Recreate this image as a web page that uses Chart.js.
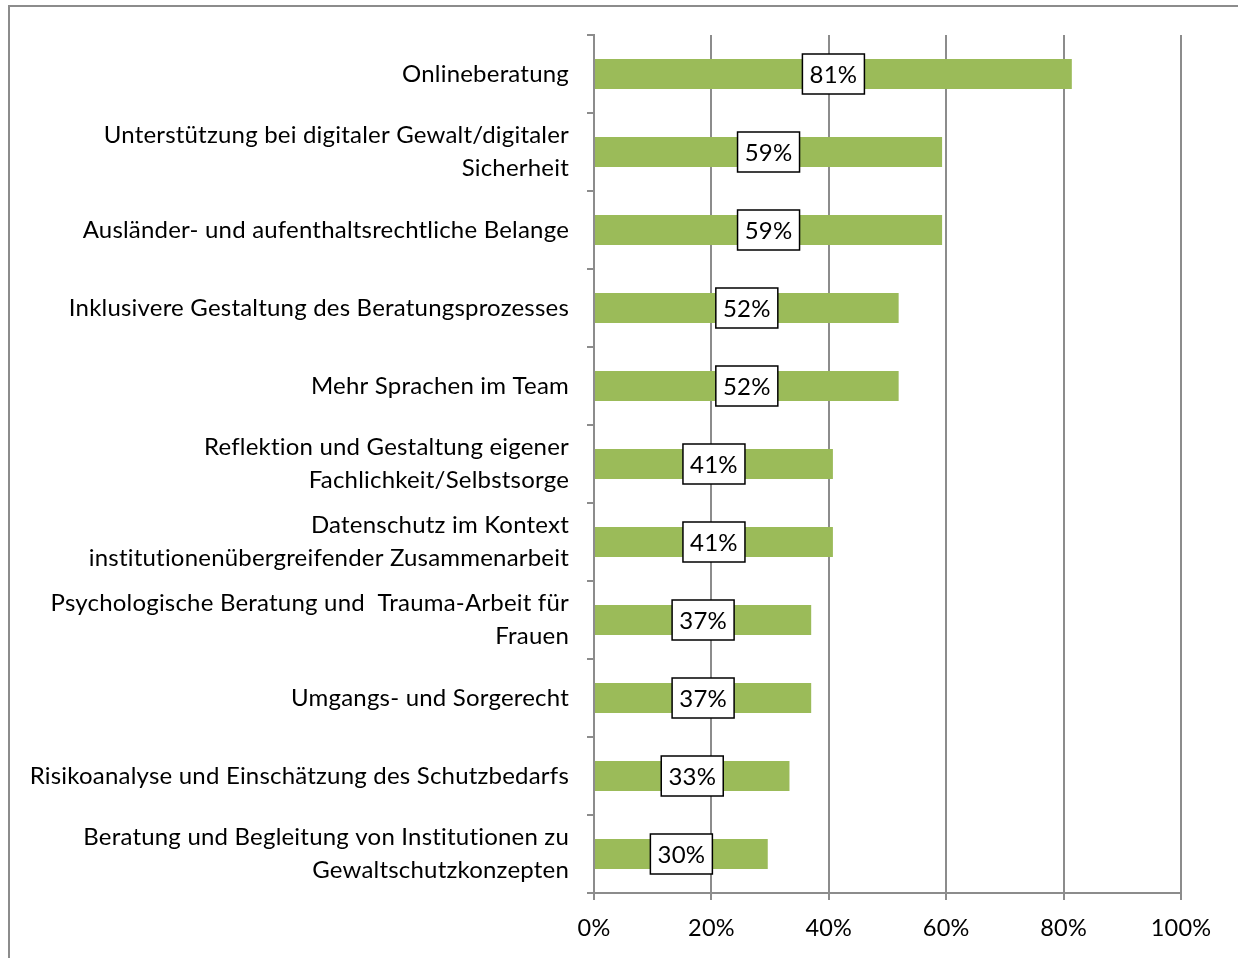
<!DOCTYPE html>
<html>
<head>
<meta charset="utf-8">
<script src="https://cdn.jsdelivr.net/npm/chart.js@4"></script>
<style>
    html, body { margin: 0; padding: 0; background: #fff; }
    #wrap { position: relative; width: 1238px; height: 958px; overflow: hidden; }
    #frame { position: absolute; left: 8px; top: 5px; width: 1300px; height: 1000px;
             border-left: 2px solid #8c8c8c; border-top: 2px solid #8c8c8c; }
    #needs { position: absolute; left: 0; top: 0; }
</style>
</head>
<body>
<div id="wrap">
    <div id="frame"></div>
    <canvas id="needs" width="1238" height="958"></canvas>
</div>
<script>
var topics = [
    'Onlineberatung',
    ['Unterstützung bei digitaler Gewalt/digitaler', 'Sicherheit'],
    'Ausländer- und aufenthaltsrechtliche Belange',
    'Inklusivere Gestaltung des Beratungsprozesses',
    'Mehr Sprachen im Team',
    ['Reflektion und Gestaltung eigener', 'Fachlichkeit/Selbstsorge'],
    ['Datenschutz im Kontext', 'institutionenübergreifender Zusammenarbeit'],
    ['Psychologische Beratung und  Trauma-Arbeit für', 'Frauen'],
    'Umgangs- und Sorgerecht',
    'Risikoanalyse und Einschätzung des Schutzbedarfs',
    ['Beratung und Begleitung von Institutionen zu', 'Gewaltschutzkonzepten']
];
var shares = [81.4, 59.3, 59.3, 51.9, 51.9, 40.7, 40.7, 37.0, 37.0, 33.3, 29.6];
var percentTicks = [0, 20, 40, 60, 80, 100];

var FONT = 'Lato, "Open Sans", sans-serif';

// a touch of letter spacing, which also keeps Lato from joining "ti"
var spacing = {
    id: 'spacing',
    beforeDraw: function (chart) {
        chart.ctx.letterSpacing = '0.2px';
    }
};

// boxed value labels in the middle of each bar
var boxedLabels = {
    id: 'boxedLabels',
    afterDatasetsDraw: function (chart) {
        'use strict';
        var ctx = chart.ctx;
        var meta = chart.getDatasetMeta(0);
        ctx.save();
        ctx.font = '24px ' + FONT;
        ctx.textAlign = 'center';
        ctx.textBaseline = 'middle';
        meta.data.forEach(function (bar, i) {
            var text = Math.round(shares[i]) + '%';
            var cx = (bar.x + bar.base) / 2;
            var cy = bar.y;
            var w = 62, h = 40;
            ctx.fillStyle = '#ffffff';
            ctx.fillRect(cx - w / 2, cy - h / 2, w, h);
            ctx.lineWidth = 1.5;
            ctx.strokeStyle = '#000000';
            ctx.strokeRect(cx - w / 2, cy - h / 2, w, h);
            ctx.fillStyle = '#000000';
            ctx.fillText(text, cx, cy + 1);
        });
        ctx.restore();
    }
};

var ctx = document.getElementById('needs');

var myBarChart = new Chart(ctx, {
    type: 'bar',
    data: {
        labels: topics,
        datasets: [
            {
                data: shares,
                backgroundColor: '#9bbb59',
                barPercentage: 0.385,
                categoryPercentage: 1.0
            }
        ]
    },
    options: {
        indexAxis: 'y',
        responsive: false,
        animation: false,
        layout: {
            padding: { top: 35, right: 57, left: 0, bottom: 0 }
        },
        plugins: {
            legend: { display: false },
            tooltip: { enabled: false }
        },
        scales: {
            x: {
                min: 0,
                max: 100,
                afterBuildTicks: function (axis) {
                    axis.ticks = percentTicks.map(function (v) { return { value: v }; });
                },
                afterFit: function (axis) { axis.height = 65; },
                grid: {
                    color: '#8c8c8c',
                    lineWidth: 2,
                    tickLength: 7
                },
                border: { color: '#8c8c8c', width: 2 },
                ticks: {
                    color: '#000',
                    font: { family: FONT, size: 23.5 },
                    padding: 14,
                    callback: function (v) { return v + '%'; }
                }
            },
            y: {
                afterFit: function (axis) {
                    axis.width = 594;
                    axis.paddingTop = 0;
                    axis.paddingBottom = 0;
                },
                grid: {
                    drawOnChartArea: false,
                    color: '#8c8c8c',
                    lineWidth: 2,
                    tickLength: 7,
                    offset: true
                },
                border: { color: '#8c8c8c', width: 2 },
                ticks: {
                    color: '#000',
                    font: { family: FONT, size: 24, lineHeight: 1.375 },
                    padding: 18
                }
            }
        }
    },
    plugins: [spacing, boxedLabels]
});
</script>
</body>
</html>
